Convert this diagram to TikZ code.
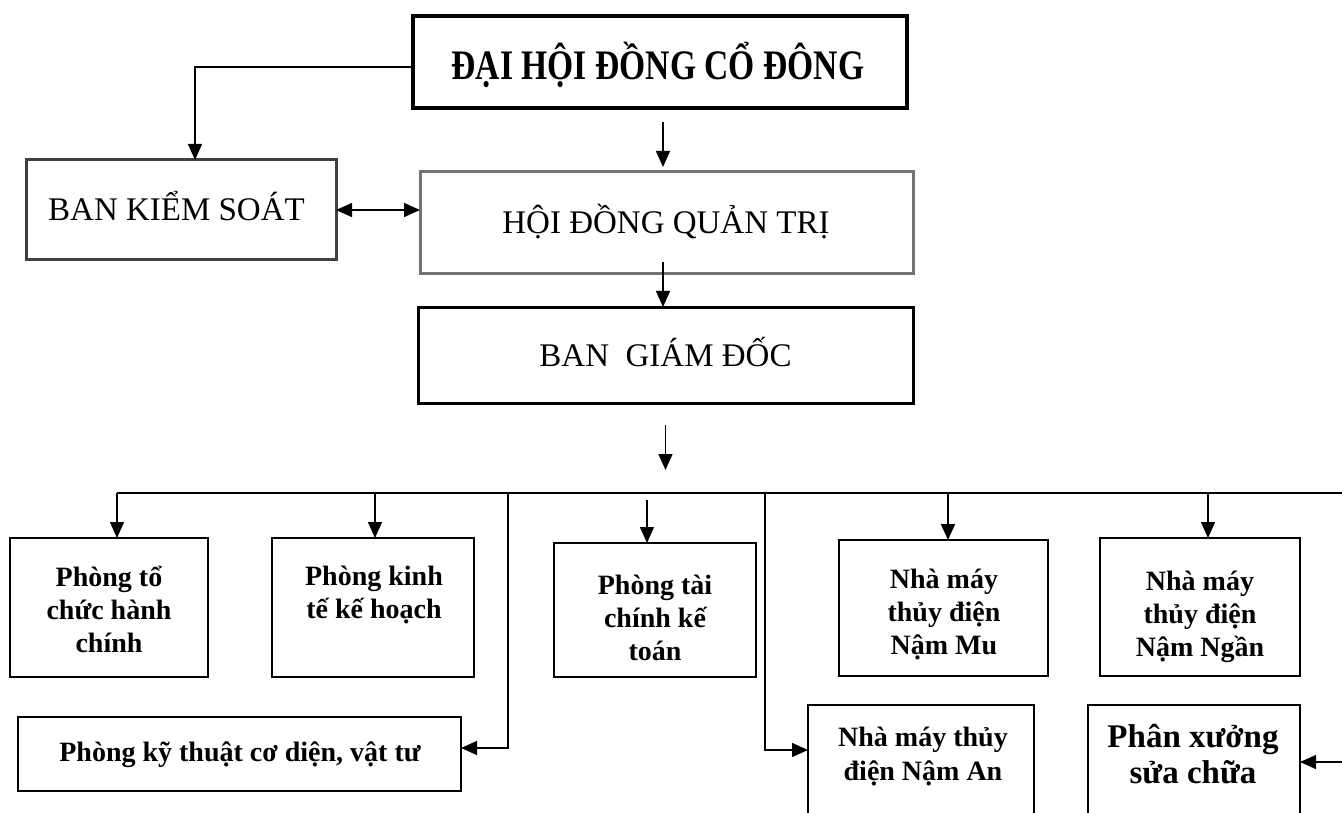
\documentclass[tikz,border=0pt]{standalone}
\usepackage{fontspec}
\setmainfont{Liberation Serif}
\newfontfamily\topfont[FakeStretch=0.8]{Liberation Serif}
\usetikzlibrary{arrows.meta}
\begin{document}
\begin{tikzpicture}[x=1pt,y=-1pt,
  box/.style={draw, rectangle, inner sep=0pt, outer sep=0pt, line width=2.2pt},
  lbl/.style={align=center, inner sep=0pt, font=\fontsize{28}{33}\selectfont\bfseries},
  big/.style={inner sep=0pt, font=\fontsize{33}{38}\selectfont},
  arr/.style={line width=1.4pt, -{Triangle[length=16pt,width=14pt]}},
  arrtwo/.style={line width=1.4pt, {Triangle[length=16pt,width=14pt]}-{Triangle[length=16pt,width=14pt]}},
  busline/.style={line width=1.4pt}]
\useasboundingbox (0,0) rectangle (1342,813);
\begin{scope}
\clip (0,0) rectangle (1342,813);
% upper boxes
\node[box, line width=3.5pt, minimum width=494pt, minimum height=92pt] (dh) at (660,62) {};
\node[box, line width=3pt, draw=black!75, minimum width=310pt, minimum height=100pt] (bks) at (181,210) {};
\node[box, line width=3pt, draw=black!55, minimum width=493pt, minimum height=102pt] (hdqt) at (666.5,223) {};
\node[box, line width=3pt, minimum width=495pt, minimum height=96pt] (bgd) at (665.5,355) {};
% lower boxes
\node[box, minimum width=198pt, minimum height=139pt] (p1) at (109,607.5) {};
\node[box, minimum width=202pt, minimum height=139pt] (p2) at (373,607.5) {};
\node[box, minimum width=202pt, minimum height=134pt] (p3) at (655,610) {};
\node[box, minimum width=209pt, minimum height=136pt] (nm) at (943.5,608) {};
\node[box, minimum width=200pt, minimum height=138pt] (nn) at (1200,607) {};
\node[box, minimum width=443pt, minimum height=74pt] (kt) at (239.5,754) {};
\node[box, minimum width=226pt, minimum height=135pt] (na) at (921,772.5) {};
\node[box, minimum width=212pt, minimum height=135pt] (px) at (1194,772.5) {};
% texts
\node[inner sep=0pt, anchor=base, font=\topfont\fontsize{42}{46}\selectfont\bfseries] (dhT) at (658,80) {ĐẠI HỘI ĐỒNG CỔ ĐÔNG};
\node[big, anchor=base] (bksT) at (176.5,221) {BAN KIỂM SOÁT};
\node[big, anchor=base] (hdqtT) at (666,234) {HỘI ĐỒNG QUẢN TRỊ};
\node[big, anchor=base] (bgdT) at (665.5,366) {BAN\ \ GIÁM ĐỐC};
\node[lbl] (p1T) at (109,609) {Phòng tổ\\chức hành\\chính};
\node[lbl] (p2T) at (374,595) {Phòng kinh\\tế kế hoạch};
\node[lbl] (p3T) at (655,617.5) {Phòng tài\\chính kế\\toán};
\node[lbl] (nmT) at (944,615) {Nhà máy\\thủy điện\\Nậm Mu};
\node[lbl] (nnT) at (1200,617) {Nhà máy\\thủy điện\\Nậm Ngần};
\node[lbl, anchor=base] (ktT) at (240,761) {Phòng kỹ thuật cơ diện, vật tư};
\node[lbl, font=\fontsize{28}{34}\selectfont\bfseries] (naT) at (923,757) {Nhà máy thủy\\điện Nậm An};
\node[lbl, font=\fontsize{33}{36}\selectfont\bfseries] (pxT) at (1193,754) {Phân xưởng\\sửa chữa};
% upper connectors
\draw[arr] ([yshift=-5pt]dh.west) -| ([xshift=14pt]bks.north);
\draw[arr, shorten >=5pt] ([xshift=3pt,yshift=-14pt]dh.south) -- ([xshift=3pt]dh.south |- hdqt.north);
\draw[arrtwo] (bks.east) -- (bks.east -| hdqt.west);
\draw[arr] ([xshift=-3.5pt,yshift=12pt]hdqt.south) -- ([xshift=-3.5pt]hdqt.south |- bgd.north);
\draw[arr] ([yshift=-22pt]bgd.south) -- ([yshift=-67pt]bgd.south);
% bus
\coordinate (busL) at (117,493);
\coordinate (busR) at (1344,493);
\coordinate (b2) at (375,493);
\coordinate (b3) at (647,500);
\coordinate (bk) at (508,493);
\coordinate (bn) at (765,493);
\coordinate (bm) at (948,493);
\coordinate (bg) at (1208,493);
\draw[busline] (busL) -- (busR);
\draw[arr] (busL) -- (busL |- p1.north);
\draw[arr] (b2) -- (b2 |- p2.north);
\draw[arr] (b3) -- (b3 |- p3.north);
\draw[arr] (bk) |- ([yshift=6pt]kt.east);
\draw[arr] (bn) |- ([yshift=22.5pt]na.west);
\draw[arr] (bm) -- (bm |- nm.north);
\draw[arr] (bg) -- (bg |- nn.north);
\draw[arr] (busR) |- ([yshift=10.5pt]px.east);
\end{scope}
\end{tikzpicture}
\end{document}
